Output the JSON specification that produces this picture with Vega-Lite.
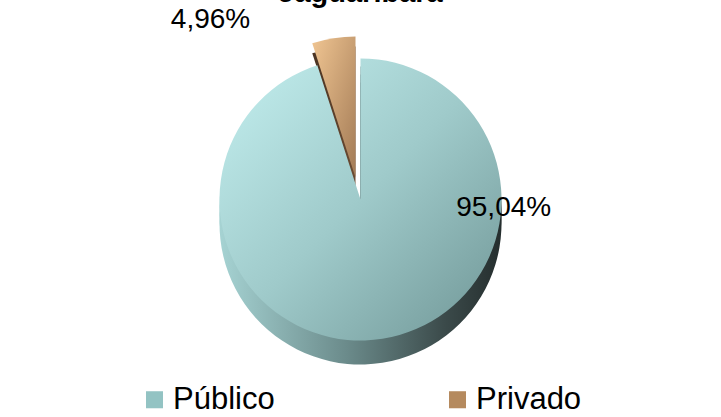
{
  "$schema": "https://vega.github.io/schema/vega-lite/v6.json",
  "width": 721,
  "height": 417,
  "autosize": {"type": "fit", "contains": "padding"},
  "padding": {"top": 0, "left": 0, "right": 0, "bottom": 2},
  "background": "white",
  "config": {
    "view": {"stroke": null},
    "font": "Liberation Sans",
    "legend": {"layout": {"bottom": {"anchor": "middle"}}},
    "locale": {"number": {"decimal": ",", "thousands": ".", "grouping": [3], "currency": ["R$", ""]}}
  },
  "title": {
    "text": "Jaguaribara",
    "fontSize": 29,
    "fontWeight": "bold",
    "color": "#000000",
    "font": "Liberation Sans",
    "dy": 2,
    "offset": 0
  },
  "data": {
    "values": [
      {"tipo": "Público", "share": 0.9504, "ordem": 1},
      {"tipo": "Privado", "share": 0.0496, "ordem": 2}
    ]
  },
  "encoding": {
    "theta": {"field": "share", "type": "quantitative", "stack": true},
    "order": {"field": "ordem", "type": "quantitative"}
  },
  "layer": [
    {
      "mark": {"type": "arc", "outerRadius": 0, "innerRadius": 0},
      "encoding": {
        "color": {"field": "tipo", "type": "nominal",
          "scale": {"domain": ["Público", "Privado"], "range": ["#93c3c3", "#b58a5e"]},
          "legend": {"title": null, "orient": "bottom", "direction": "horizontal", "symbolType": "square", "symbolSize": 290, "labelFontSize": 31, "labelColor": "#000000", "labelFont": "Liberation Sans", "columnPadding": 167, "symbolStrokeWidth": 0, "labelOffset": 3, "offset": 12, "symbolOpacity": 1}
        }
      }
    },
    {
      "mark": {"type": "arc", "outerRadius": 141, "xOffset": -5, "yOffset": -12},
      "encoding": {
        "color": {"value": {"gradient": "linear", "x1": 0, "y1": 0, "x2": 1, "y2": 0, "stops": [{"offset": 0, "color": "#4a3322"}, {"offset": 1, "color": "#6b4c33"}]}},
        "opacity": {"condition": {"test": "datum.tipo === 'Público'", "value": 0}, "value": 1}
      }
    },
    {
      "mark": {"type": "arc", "outerRadius": 141, "xOffset": -5, "yOffset": -22},
      "encoding": {
        "color": {"value": {"gradient": "linear", "x1": 0, "y1": 0, "x2": 1, "y2": 1, "stops": [{"offset": 0, "color": "#f0c592"}, {"offset": 1, "color": "#a27a55"}]}},
        "opacity": {"condition": {"test": "datum.tipo === 'Público'", "value": 0}, "value": 1}
      }
    },
    {
      "mark": {"type": "arc", "outerRadius": 141, "yOffset": 24},
      "encoding": {
        "color": {"value": {"gradient": "linear", "x1": 0, "y1": 0, "x2": 1, "y2": 0, "stops": [{"offset": 0, "color": "#a6d3d3"}, {"offset": 0.45, "color": "#6b8b8b"}, {"offset": 0.8, "color": "#3b4a4a"}, {"offset": 1, "color": "#252e2e"}]}},
        "opacity": {"condition": {"test": "datum.tipo === 'Privado'", "value": 0}, "value": 1}
      }
    },
    {
      "mark": {"type": "arc", "outerRadius": 141, "yOffset": 16},
      "encoding": {
        "color": {"value": {"gradient": "linear", "x1": 0, "y1": 0, "x2": 1, "y2": 0, "stops": [{"offset": 0, "color": "#a6d3d3"}, {"offset": 0.45, "color": "#6b8b8b"}, {"offset": 0.8, "color": "#3b4a4a"}, {"offset": 1, "color": "#252e2e"}]}},
        "opacity": {"condition": {"test": "datum.tipo === 'Privado'", "value": 0}, "value": 1}
      }
    },
    {
      "mark": {"type": "arc", "outerRadius": 141, "yOffset": 8},
      "encoding": {
        "color": {"value": {"gradient": "linear", "x1": 0, "y1": 0, "x2": 1, "y2": 0, "stops": [{"offset": 0, "color": "#a6d3d3"}, {"offset": 0.45, "color": "#6b8b8b"}, {"offset": 0.8, "color": "#3b4a4a"}, {"offset": 1, "color": "#252e2e"}]}},
        "opacity": {"condition": {"test": "datum.tipo === 'Privado'", "value": 0}, "value": 1}
      }
    },
    {
      "mark": {"type": "arc", "outerRadius": 141},
      "encoding": {
        "color": {"value": {"gradient": "linear", "x1": 0, "y1": 0, "x2": 1, "y2": 1, "stops": [{"offset": 0, "color": "#c4f0f0"}, {"offset": 0.5, "color": "#9fcaca"}, {"offset": 1, "color": "#6f9595"}]}},
        "opacity": {"condition": {"test": "datum.tipo === 'Privado'", "value": 0}, "value": 1}
      }
    },
    {
      "mark": {"type": "text", "radius": 85, "fontSize": 28, "font": "Liberation Sans", "color": "#000000", "dx": 130, "dy": -75},
      "encoding": {
        "text": {"field": "share", "type": "quantitative", "format": ".2%"},
        "opacity": {"condition": {"test": "datum.tipo === 'Privado'", "value": 0}, "value": 1}
      }
    },
    {
      "mark": {"type": "text", "radius": 180, "fontSize": 28, "font": "Liberation Sans", "color": "#000000", "dx": -122, "dy": -2},
      "encoding": {
        "text": {"field": "share", "type": "quantitative", "format": ".2%"},
        "opacity": {"condition": {"test": "datum.tipo === 'Público'", "value": 0}, "value": 1}
      }
    }
  ]
}
